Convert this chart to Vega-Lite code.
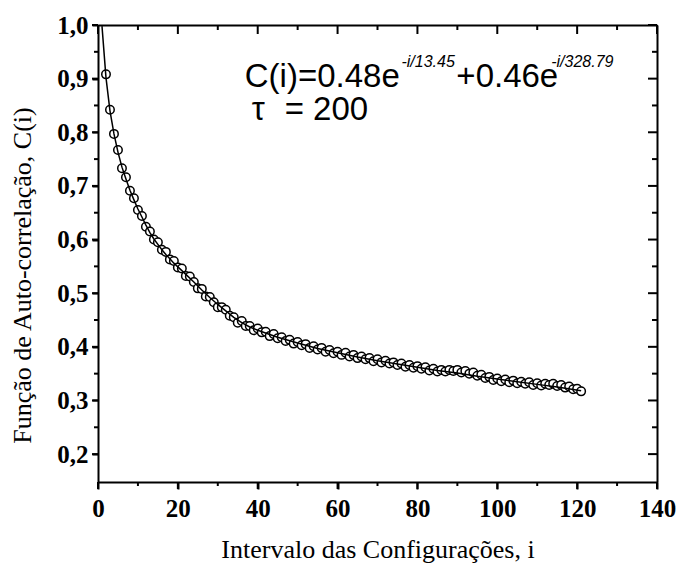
{
  "$schema": "https://vega.github.io/schema/vega-lite/v6.json",
  "width": 559,
  "height": 457,
  "autosize": {"type": "none"},
  "padding": {"left": 98, "top": 25, "right": 23, "bottom": 82},
  "background": "white",
  "config": {
    "view": {"stroke": null},
    "axis": {
      "grid": false,
      "ticks": true,
      "tickColor": "#000000",
      "tickWidth": 2,
      "domainColor": "#000000",
      "domainWidth": 2,
      "labelColor": "#000000",
      "titleColor": "#000000",
      "labelFont": "Liberation Serif",
      "titleFont": "Liberation Serif"
    }
  },
  "datasets": {
    "pts": [
      {"i": 2, "C": 0.908}, {"i": 3, "C": 0.842}, {"i": 4, "C": 0.797}, {"i": 5, "C": 0.767}, {"i": 6, "C": 0.733},
      {"i": 7, "C": 0.716}, {"i": 8, "C": 0.691}, {"i": 9, "C": 0.677}, {"i": 10, "C": 0.655}, {"i": 11, "C": 0.644},
      {"i": 12, "C": 0.624}, {"i": 13, "C": 0.615}, {"i": 14, "C": 0.600}, {"i": 15, "C": 0.595}, {"i": 16, "C": 0.581},
      {"i": 17, "C": 0.577}, {"i": 18, "C": 0.563}, {"i": 19, "C": 0.560}, {"i": 20, "C": 0.548}, {"i": 21, "C": 0.546},
      {"i": 22, "C": 0.532}, {"i": 23, "C": 0.531}, {"i": 24, "C": 0.521}, {"i": 25, "C": 0.509}, {"i": 26, "C": 0.508},
      {"i": 27, "C": 0.494}, {"i": 28, "C": 0.493}, {"i": 29, "C": 0.483}, {"i": 30, "C": 0.474}, {"i": 31, "C": 0.474},
      {"i": 32, "C": 0.469}, {"i": 33, "C": 0.458}, {"i": 34, "C": 0.455}, {"i": 35, "C": 0.445}, {"i": 36, "C": 0.448},
      {"i": 37, "C": 0.439}, {"i": 38, "C": 0.439}, {"i": 39, "C": 0.431}, {"i": 40, "C": 0.434}, {"i": 41, "C": 0.427},
      {"i": 42, "C": 0.428}, {"i": 43, "C": 0.420}, {"i": 44, "C": 0.424}, {"i": 45, "C": 0.416}, {"i": 46, "C": 0.418},
      {"i": 47, "C": 0.411}, {"i": 48, "C": 0.413}, {"i": 49, "C": 0.406}, {"i": 50, "C": 0.409}, {"i": 51, "C": 0.403},
      {"i": 52, "C": 0.405}, {"i": 53, "C": 0.398}, {"i": 54, "C": 0.401}, {"i": 55, "C": 0.395}, {"i": 56, "C": 0.398},
      {"i": 57, "C": 0.391}, {"i": 58, "C": 0.394}, {"i": 59, "C": 0.388}, {"i": 60, "C": 0.391}, {"i": 61, "C": 0.385},
      {"i": 62, "C": 0.389}, {"i": 63, "C": 0.382}, {"i": 64, "C": 0.385}, {"i": 65, "C": 0.379}, {"i": 66, "C": 0.382},
      {"i": 67, "C": 0.377}, {"i": 68, "C": 0.379}, {"i": 69, "C": 0.373}, {"i": 70, "C": 0.377}, {"i": 71, "C": 0.371},
      {"i": 72, "C": 0.374}, {"i": 73, "C": 0.369}, {"i": 74, "C": 0.371}, {"i": 75, "C": 0.366}, {"i": 76, "C": 0.369},
      {"i": 77, "C": 0.363}, {"i": 78, "C": 0.366}, {"i": 79, "C": 0.361}, {"i": 80, "C": 0.364}, {"i": 81, "C": 0.359},
      {"i": 82, "C": 0.362}, {"i": 83, "C": 0.356}, {"i": 84, "C": 0.359}, {"i": 85, "C": 0.354}, {"i": 86, "C": 0.357},
      {"i": 87, "C": 0.354}, {"i": 88, "C": 0.357}, {"i": 89, "C": 0.355}, {"i": 90, "C": 0.357}, {"i": 91, "C": 0.352},
      {"i": 92, "C": 0.355}, {"i": 93, "C": 0.350}, {"i": 94, "C": 0.352}, {"i": 95, "C": 0.346}, {"i": 96, "C": 0.348},
      {"i": 97, "C": 0.342}, {"i": 98, "C": 0.344}, {"i": 99, "C": 0.338}, {"i": 100, "C": 0.341}, {"i": 101, "C": 0.336},
      {"i": 102, "C": 0.339}, {"i": 103, "C": 0.334}, {"i": 104, "C": 0.337}, {"i": 105, "C": 0.332}, {"i": 106, "C": 0.335},
      {"i": 107, "C": 0.331}, {"i": 108, "C": 0.334}, {"i": 109, "C": 0.329}, {"i": 110, "C": 0.332}, {"i": 111, "C": 0.328},
      {"i": 112, "C": 0.331}, {"i": 113, "C": 0.329}, {"i": 114, "C": 0.331}, {"i": 115, "C": 0.327}, {"i": 116, "C": 0.329},
      {"i": 117, "C": 0.324}, {"i": 118, "C": 0.326}, {"i": 119, "C": 0.321}, {"i": 120, "C": 0.322}, {"i": 121, "C": 0.317}
    ],
    "fit": [
      {"i": 1, "C": 0.998}, {"i": 2, "C": 0.902}, {"i": 3, "C": 0.840}, {"i": 4, "C": 0.797}, {"i": 5, "C": 0.763},
      {"i": 6, "C": 0.735}, {"i": 7, "C": 0.713}, {"i": 8, "C": 0.692}, {"i": 9, "C": 0.674}, {"i": 10, "C": 0.657},
      {"i": 11, "C": 0.642}, {"i": 12, "C": 0.627}, {"i": 13, "C": 0.613}, {"i": 14, "C": 0.601}, {"i": 15, "C": 0.591},
      {"i": 16, "C": 0.581}, {"i": 17, "C": 0.572}, {"i": 18, "C": 0.564}, {"i": 19, "C": 0.556}, {"i": 20, "C": 0.549},
      {"i": 22, "C": 0.535}, {"i": 24, "C": 0.521}, {"i": 26, "C": 0.506}, {"i": 28, "C": 0.492}, {"i": 30, "C": 0.479},
      {"i": 32, "C": 0.467}, {"i": 34, "C": 0.455}, {"i": 36, "C": 0.445}, {"i": 38, "C": 0.437}, {"i": 40, "C": 0.431},
      {"i": 45, "C": 0.418}, {"i": 50, "C": 0.407}, {"i": 55, "C": 0.397}, {"i": 60, "C": 0.389}, {"i": 65, "C": 0.381},
      {"i": 70, "C": 0.374}, {"i": 75, "C": 0.368}, {"i": 80, "C": 0.362}, {"i": 85, "C": 0.356}, {"i": 90, "C": 0.351},
      {"i": 95, "C": 0.345}, {"i": 100, "C": 0.340}, {"i": 105, "C": 0.335}, {"i": 110, "C": 0.330}, {"i": 115, "C": 0.325},
      {"i": 121, "C": 0.318}
    ],
    "eqMain": [
      {"i": 36.75, "C": 0.8844, "t": "C(i)=0.48e"},
      {"i": 89.75, "C": 0.8844, "t": "+0.46e"},
      {"i": 38.5, "C": 0.8229, "t": "τ"},
      {"i": 46.75, "C": 0.8229, "t": "= 200"}
    ],
    "eqSup": [
      {"i": 76, "C": 0.9217, "t": "-i/13.45"},
      {"i": 113.5, "C": 0.9217, "t": "-i/328.79"}
    ],
    "xMajor": [{"i": 0}, {"i": 20}, {"i": 40}, {"i": 60}, {"i": 80}, {"i": 100}, {"i": 120}, {"i": 140}],
    "xMinor": [{"i": 10}, {"i": 30}, {"i": 50}, {"i": 70}, {"i": 90}, {"i": 110}, {"i": 130}],
    "yMajor": [{"C": 0.2}, {"C": 0.3}, {"C": 0.4}, {"C": 0.5}, {"C": 0.6}, {"C": 0.7}, {"C": 0.8}, {"C": 0.9}, {"C": 1.0}],
    "yMinor": [{"C": 0.25}, {"C": 0.35}, {"C": 0.45}, {"C": 0.55}, {"C": 0.65}, {"C": 0.75}, {"C": 0.85}, {"C": 0.95}]
  },
  "layer": [
    {
      "data": {"name": "pts"},
      "mark": {"type": "point", "shape": "circle", "filled": false, "fill": "white", "fillOpacity": 1, "stroke": "black", "strokeWidth": 1.5, "size": 72, "opacity": 1},
      "encoding": {
        "x": {
          "field": "i", "type": "quantitative",
          "scale": {"domain": [0, 140], "nice": false, "zero": false},
          "axis": {
            "orient": "bottom",
            "values": [0, 20, 40, 60, 80, 100, 120, 140],
            "ticks": true,
            "tickSize": 7,
            "labelFontSize": 25,
            "labelFontWeight": "bold",
            "labelPadding": 7,
            "labelFlush": false,
            "labelOverlap": false,
            "title": "Intervalo das Configurações, i",
            "titleFontSize": 26,
            "titleFontWeight": "normal",
            "titleBaseline": "alphabetic",
            "titleY": 75
          }
        },
        "y": {
          "field": "C", "type": "quantitative",
          "scale": {"domain": [0.148, 1.0], "nice": false, "zero": false},
          "axis": {
            "orient": "left",
            "values": [0.2, 0.3, 0.4, 0.5, 0.6, 0.7, 0.8, 0.9, 1.0],
            "labelExpr": "replace(format(datum.value, '.1f'), '.', ',')",
            "ticks": true,
            "tickSize": 6,
            "labelFontSize": 25,
            "labelFontWeight": "bold",
            "labelPadding": 4,
            "labelFlush": false,
            "labelOverlap": false,
            "title": "Função de Auto-correlação, C(i)",
            "titleFontSize": 26,
            "titleFontWeight": "normal",
            "titleBaseline": "alphabetic",
            "titleX": -68,
            "titleY": 250
          }
        }
      }
    },
    {
      "data": {"name": "fit"},
      "mark": {"type": "line", "color": "black", "strokeWidth": 1.5},
      "encoding": {
        "x": {
          "field": "i", "type": "quantitative",
          "scale": {"domain": [0, 140], "nice": false, "zero": false},
          "axis": {"orient": "top", "values": [0, 140], "labels": false, "ticks": false, "title": null}
        },
        "y": {
          "field": "C", "type": "quantitative",
          "scale": {"domain": [0.148, 1.0], "nice": false, "zero": false},
          "axis": {"orient": "right", "values": [0.2, 1.0], "labels": false, "ticks": false, "title": null}
        }
      }
    },
    {
      "data": {"name": "xMajor"},
      "mark": {"type": "rule", "color": "#000000", "strokeWidth": 2, "clip": false},
      "encoding": {
        "x": {"field": "i", "type": "quantitative", "axis": null},
        "y": {"datum": 0.148, "type": "quantitative", "axis": null},
        "y2": {"datum": 0.1349}
      }
    },
    {
      "data": {"name": "xMinor"},
      "mark": {"type": "rule", "color": "#000000", "strokeWidth": 2, "clip": false},
      "encoding": {
        "x": {"field": "i", "type": "quantitative", "axis": null},
        "y": {"datum": 0.148, "type": "quantitative", "axis": null},
        "y2": {"datum": 0.1405}
      }
    },
    {
      "data": {"name": "xMajor"},
      "mark": {"type": "rule", "color": "#000000", "strokeWidth": 2, "clip": false},
      "encoding": {
        "x": {"field": "i", "type": "quantitative", "axis": null},
        "y": {"datum": 1.0, "type": "quantitative", "axis": null},
        "y2": {"datum": 0.9832}
      }
    },
    {
      "data": {"name": "xMinor"},
      "mark": {"type": "rule", "color": "#000000", "strokeWidth": 2, "clip": false},
      "encoding": {
        "x": {"field": "i", "type": "quantitative", "axis": null},
        "y": {"datum": 1.0, "type": "quantitative", "axis": null},
        "y2": {"datum": 0.9907}
      }
    },
    {
      "data": {"name": "yMajor"},
      "mark": {"type": "rule", "color": "#000000", "strokeWidth": 2, "clip": false},
      "encoding": {
        "y": {"field": "C", "type": "quantitative", "axis": null},
        "x": {"datum": 0, "type": "quantitative", "axis": null},
        "x2": {"datum": -1.5}
      }
    },
    {
      "data": {"name": "yMinor"},
      "mark": {"type": "rule", "color": "#000000", "strokeWidth": 2, "clip": false},
      "encoding": {
        "y": {"field": "C", "type": "quantitative", "axis": null},
        "x": {"datum": 0, "type": "quantitative", "axis": null},
        "x2": {"datum": -1.0}
      }
    },
    {
      "data": {"name": "yMajor"},
      "mark": {"type": "rule", "color": "#000000", "strokeWidth": 2, "clip": false},
      "encoding": {
        "y": {"field": "C", "type": "quantitative", "axis": null},
        "x": {"datum": 140, "type": "quantitative", "axis": null},
        "x2": {"datum": 137.75}
      }
    },
    {
      "data": {"name": "yMinor"},
      "mark": {"type": "rule", "color": "#000000", "strokeWidth": 2, "clip": false},
      "encoding": {
        "y": {"field": "C", "type": "quantitative", "axis": null},
        "x": {"datum": 140, "type": "quantitative", "axis": null},
        "x2": {"datum": 138.75}
      }
    },
    {
      "data": {"name": "eqMain"},
      "mark": {"type": "text", "align": "left", "baseline": "alphabetic", "font": "Liberation Sans", "fontSize": 33, "color": "black"},
      "encoding": {
        "x": {"field": "i", "type": "quantitative", "axis": null},
        "y": {"field": "C", "type": "quantitative", "axis": null},
        "text": {"field": "t"}
      }
    },
    {
      "data": {"name": "eqSup"},
      "mark": {"type": "text", "align": "left", "baseline": "alphabetic", "font": "Liberation Sans", "fontSize": 16, "fontStyle": "italic", "color": "black"},
      "encoding": {
        "x": {"field": "i", "type": "quantitative", "axis": null},
        "y": {"field": "C", "type": "quantitative", "axis": null},
        "text": {"field": "t"}
      }
    }
  ],
  "resolve": {"axis": {"x": "independent", "y": "independent"}}
}
